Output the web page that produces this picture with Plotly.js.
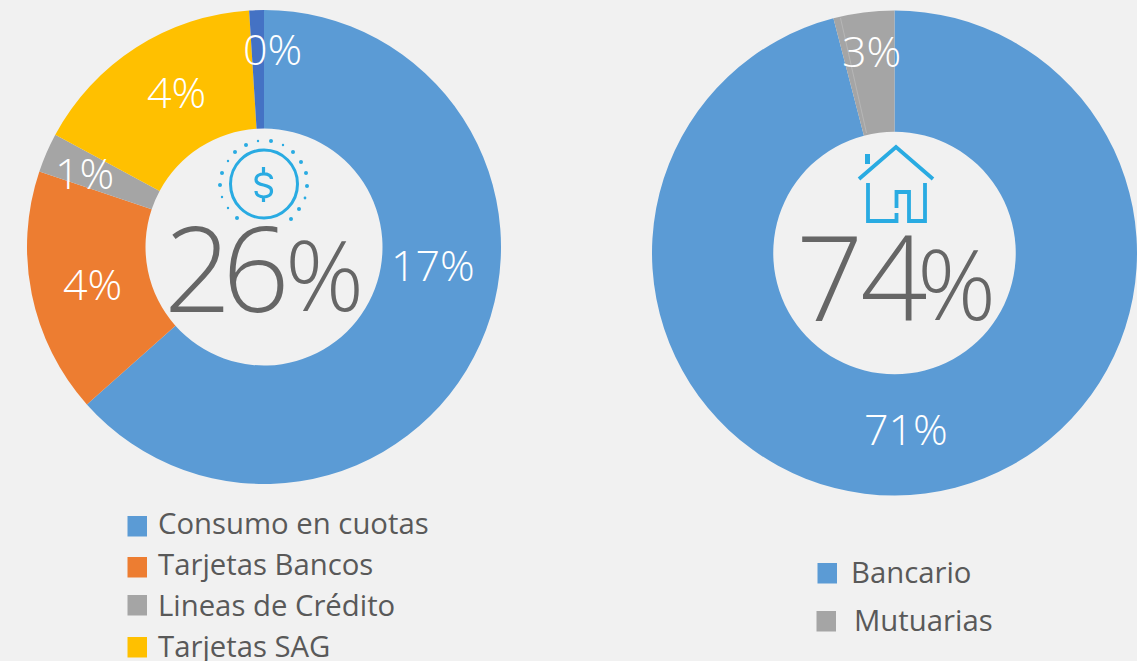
<!DOCTYPE html>
<html><head><meta charset="utf-8">
<script src="https://cdn.plot.ly/plotly-3.0.1.min.js"></script>
<style>html,body{margin:0;padding:0;background:#f1f1f1;overflow:hidden}#c{width:1137px;height:661px}
.annotation[data-index="7"] text{letter-spacing:-9px}
.annotation[data-index="9"] text{letter-spacing:-3px}
</style>
</head><body><div id="c"></div>
<script>
const W = 1137, H = 661;
const creditLabels = ["Consumo en cuotas", "Tarjetas Bancos", "Lineas de Crédito", "Tarjetas SAG", "Otros"];
const creditValues = [16.5, 4.35, 0.7, 4.2, 0.26];
const creditText = ["17%", "4%", "1%", "4%", "0%"];
const creditColors = ["#5B9BD5", "#ED7D31", "#A5A5A5", "#FFC000", "#4472C4"];
const housingLabels = ["Bancario", "Mutuarias"];
const housingValues = [71, 3];
const housingText = ["71%", "3%"];
const housingColors = ["#5B9BD5", "#A5A5A5"];
const creditTotal = "26", housingTotal = "74";

const FONT = '"Open Sans", sans-serif', ICON = "#29ABE2";
const fx = x => x / W, fy = y => 1 - y / H;
const pt = (x, y) => fx(x) + " " + fy(y);
const txt = (text, x, y, size, color, weight) => ({
  text, x: fx(x), y: fy(y), xref: "paper", yref: "paper", xanchor: "center", yanchor: "middle",
  showarrow: false, align: "center", font: {family: FONT, size, color, weight: weight || 300}
});
const legTxt = (text, x, y) => Object.assign(txt(text, x, y, 29.3, "#595959", 400), {xanchor: "left"});
const sq = (x, y, c) => ({type: "rect", xref: "paper", yref: "paper", x0: fx(x), x1: fx(x + 19.5), y0: fy(y), y1: fy(y + 20.5), fillcolor: c, line: {width: 0}});
const stroke = (d, w) => ({type: "path", xref: "paper", yref: "paper", path: d, line: {color: ICON, width: w}, fillcolor: "rgba(0,0,0,0)"});
const M = (x, y) => "M" + pt(x, y), L = (x, y) => " L" + pt(x, y);

const donut = (labels, values, colors, x0, x1, y0, y1) => ({
  type: "pie", labels, values, sort: false, direction: "clockwise", rotation: 0, hole: 0.5,
  textinfo: "none", showlegend: false, hoverinfo: "label+value",
  marker: {colors, line: {width: 0}},
  domain: {x: [fx(x0), fx(x1)], y: [fy(y1), fy(y0)]}
});

const dots = [[258,141,1.2],[271,141,2],[283,145,1.2],[293,152,2],[301,162,2],[306,173,2],[307,186,2],[305,198,1.4],[299,209,2],[291,219,2],[237,218,2],[228,208,1.2],[222,197,1.2],[220,185,2],[222,173,2],[228,161,1.2],[235,152,2],[246,145,2]];
const dotShapes = dots.map(d => ({type: "circle", xref: "paper", yref: "paper", x0: fx(d[0]-d[2]), x1: fx(d[0]+d[2]), y0: fy(d[1]-d[2]), y1: fy(d[1]+d[2]), fillcolor: ICON, line: {width: 0}}));

const dollar = M(271.5,179) + " C" + pt(271.5,172) + " " + pt(256,172) + " " + pt(256,179.5) + " C" + pt(256,187) + " " + pt(271.5,183) + " " + pt(271.5,191) + " C" + pt(271.5,199) + " " + pt(256,199) + " " + pt(256,191) + M(263.5,167) + L(263.5,173) + M(263.5,197) + L(263.5,202);
const house = M(859,179) + L(896,147) + L(933,179) + M(868,183) + L(868,221) + L(896.5,221) + L(896.5,213) + M(896.5,208) + L(896.5,192) + L(909,192) + L(909,221) + L(925,221) + L(925,183);

const layout = {
  width: W, height: H, margin: {l: 0, r: 0, t: 0, b: 0},
  paper_bgcolor: "#f1f1f1", plot_bgcolor: "#f1f1f1", showlegend: false,
  annotations: [
    txt(creditText[0], 433, 265, 43, "#fff"),
    txt(creditText[1], 92, 283, 43, "#fff"),
    txt(creditText[2], 84, 172, 43, "#fff"),
    txt(creditText[3], 176, 91, 43, "#fff"),
    txt(creditText[4], 272, 48, 43, "#fff"),
    txt(housingText[0], 906, 428, 43, "#fff"),
    txt(housingText[1], 871, 51, 43, "#fff"),
    txt(creditTotal, 222.5, 267, 118, "#666666"),
    txt("%", 324, 273, 98, "#666666"),
    txt(housingTotal, 860, 275, 118, "#666666"),
    txt("%", 956.5, 282, 98, "#666666"),
    legTxt(creditLabels[0], 156, 522.5),
    legTxt(creditLabels[1], 156, 564),
    legTxt(creditLabels[2], 156, 605),
    legTxt(creditLabels[3], 156, 646),
    legTxt(housingLabels[0], 849, 572),
    legTxt(housingLabels[1], 852, 620)
  ],
  shapes: [
    sq(127.5, 516, creditColors[0]), sq(127.5, 557, creditColors[1]), sq(127.5, 595, creditColors[2]), sq(127.5, 637, creditColors[3]),
    sq(817.5, 563, housingColors[0]), sq(816.5, 611, housingColors[1]),
    {type: "circle", xref: "paper", yref: "paper", x0: fx(230.5), x1: fx(297.5), y0: fy(150), y1: fy(218), line: {color: ICON, width: 3}, fillcolor: "rgba(0,0,0,0)"},
    stroke(dollar, 3.2),
    stroke(house, 3.8),
    {type: "rect", xref: "paper", yref: "paper", x0: fx(865), x1: fx(870), y0: fy(154), y1: fy(164), fillcolor: ICON, line: {width: 0}},
    {type: "line", xref: "paper", yref: "paper", x0: fx(840.5), y0: fy(18), x1: fx(866.5), y1: fy(133), line: {color: "#bdbdbd", width: 0.7}}
  ].concat(dotShapes)
};
Plotly.newPlot("c", [
  donut(creditLabels, creditValues, creditColors, 27, 501, 10, 484),
  donut(housingLabels, housingValues, housingColors, 652, 1137, 10, 496)
], layout, {displayModeBar: false, staticPlot: true});
</script></body></html>
